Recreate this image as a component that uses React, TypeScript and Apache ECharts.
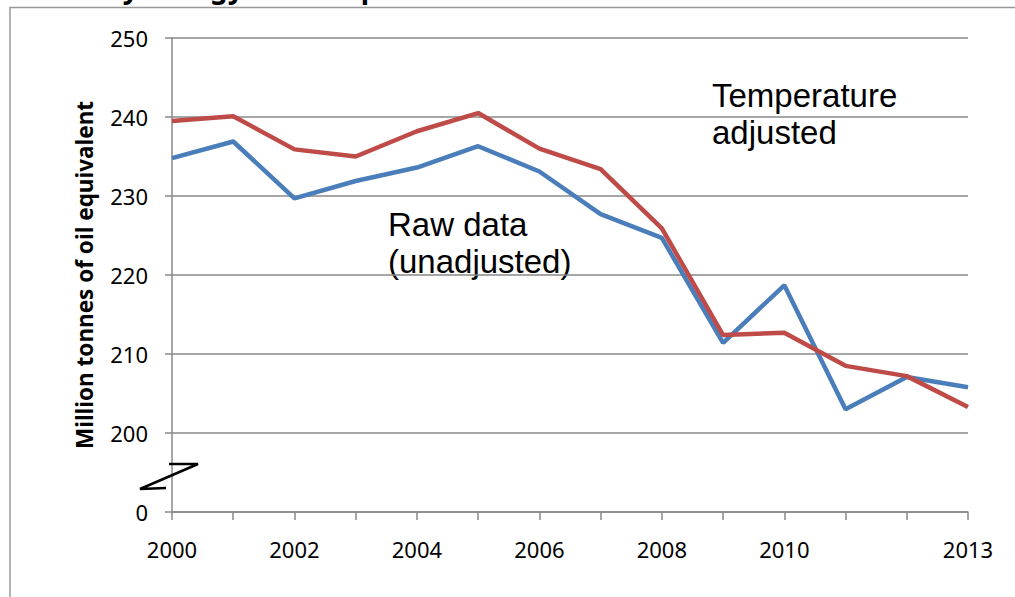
import React, { useEffect, useRef } from "react";
import * as echarts from "echarts";

const years = ["2000","2001","2002","2003","2004","2005","2006","2007","2008","2009","2010","2011","2012","2013"];
const shownYearLabels = ["2000","2002","2004","2006","2008","2010","2013"];
const rawData = [234.8, 236.9, 229.7, 231.9, 233.6, 236.3, 233.1, 227.7, 224.7, 211.4, 218.7, 203.0, 207.1, 205.8];
const tempAdjusted = [239.5, 240.1, 235.9, 235.0, 238.2, 240.5, 236.0, 233.4, 225.9, 212.4, 212.7, 208.5, 207.2, 203.3];
const yMin = 190;
const yMax = 250;
const yStep = 10;
const brokenAxisLabel = "0";

export default function App() {
  const ref = useRef<HTMLDivElement>(null);
  useEffect(() => {
    document.body.style.margin = "0";
    const chart = echarts.init(ref.current!, null, { renderer: "svg" });
    const font = "'Noto Sans', 'Open Sans', sans-serif";
    chart.setOption({
      animation: false,
      backgroundColor: "#ffffff",
      grid: { left: 172, right: 47, top: 38, bottom: 85 },
      xAxis: {
        type: "category",
        data: years,
        boundaryGap: false,
        axisLine: { show: true, lineStyle: { color: "#888888", width: 1.5 } },
        axisTick: { show: true, interval: 0, length: 8, lineStyle: { color: "#888888", width: 1.5 } },
        axisLabel: {
          interval: 0,
          margin: 26,
          color: "#000000",
          fontSize: 22,
          fontFamily: font,
          formatter: (v: string) => (shownYearLabels.includes(v) ? v : ""),
        },
        splitLine: { show: false },
      },
      yAxis: {
        type: "value",
        min: yMin,
        max: yMax,
        interval: yStep,
        name: "Million tonnes of oil equivalent",
        nameLocation: "middle",
        nameRotate: 90,
        nameGap: 76,
        nameTextStyle: { color: "#000000", fontSize: 22.5, fontWeight: "bold", fontFamily: font },
        axisLine: { show: true, lineStyle: { color: "#888888", width: 1.5 } },
        axisTick: { show: true, length: 7, lineStyle: { color: "#888888", width: 1.5 } },
        axisLabel: {
          margin: 24,
          color: "#000000",
          fontSize: 22,
          fontFamily: font,
          formatter: (v: number) => (v === yMin ? brokenAxisLabel : String(v)),
        },
        splitLine: { show: true, lineStyle: { color: "#888888", width: 1.5 } },
      },
      series: [
        {
          name: "Raw data (unadjusted)",
          type: "line",
          data: rawData,
          symbol: "none",
          lineStyle: { color: "#4a7ebb", width: 4.5 },
          z: 2,
        },
        {
          name: "Temperature adjusted",
          type: "line",
          data: tempAdjusted,
          symbol: "none",
          lineStyle: { color: "#be4b48", width: 4.5 },
          z: 3,
        },
      ],
      graphic: [
        {
          type: "rect",
          shape: { x: 10, y: 7.5, width: 1020, height: 620 },
          style: { fill: "none", stroke: "#999999", lineWidth: 1.5 },
          silent: true,
        },
        {
          type: "text",
          x: 28,
          y: 1,
          style: {
            text: "Primary energy consumption",
            fontSize: 28,
            fontWeight: "bold",
            fontFamily: font,
            fill: "#000000",
            verticalAlign: "bottom",
          },
        },
        {
          type: "text",
          x: 388,
          y: 206,
          style: {
            text: "Raw data\n(unadjusted)",
            fontSize: 33,
            lineHeight: 37,
            fontFamily: "'Liberation Sans', Arial, sans-serif",
            fill: "#000000",
          },
        },
        {
          type: "text",
          x: 712,
          y: 77,
          style: {
            text: "Temperature\nadjusted",
            fontSize: 33,
            lineHeight: 37,
            fontFamily: "'Liberation Sans', Arial, sans-serif",
            fill: "#000000",
          },
        },
        {
          type: "polyline",
          shape: { points: [[169, 464], [198, 464], [140, 489], [166, 488]] },
          style: { stroke: "#000000", lineWidth: 2.5, fill: "none" },
          z: 10,
        },
      ],
    });
    return () => chart.dispose();
  }, []);
  return <div ref={ref} style={{ width: 1015, height: 597 }} />;
}
